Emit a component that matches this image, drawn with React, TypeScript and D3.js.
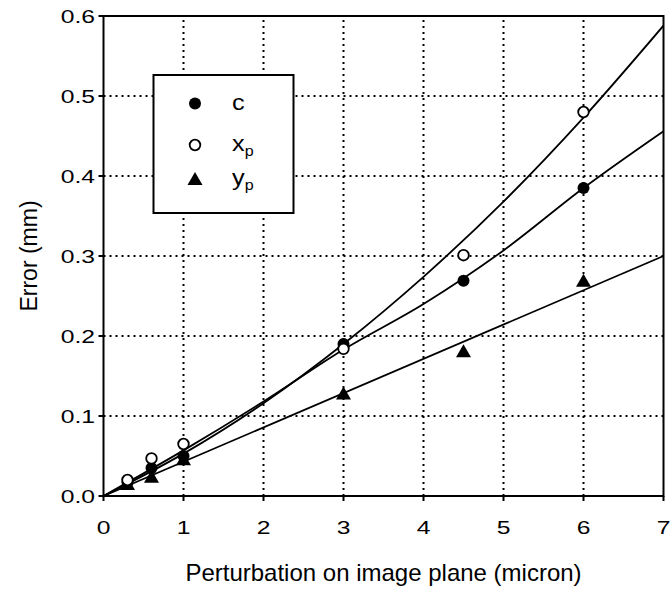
import React from 'react';
import * as d3 from 'd3';

// measured points
const xs = [0.3, 0.6, 1, 3, 4.5, 6];
const cVals = [0.017, 0.035, 0.05, 0.19, 0.269, 0.385];
const xpVals = [0.02, 0.047, 0.065, 0.184, 0.301, 0.48];
const ypVals = [0.015, 0.024, 0.046, 0.128, 0.181, 0.269];

// fitted curves
const fitX = [0, 1, 2, 3, 4, 5, 6, 7];
const cFit = [0, 0.057, 0.118, 0.183, 0.24, 0.307, 0.385, 0.456];
const xpFit = [0, 0.053, 0.116, 0.19, 0.274, 0.368, 0.473, 0.588];
const ypFitX = [0, 7];
const ypFit = [0, 0.3];

const xTicks = [0, 1, 2, 3, 4, 5, 6, 7];
const yTicks = [0, 0.1, 0.2, 0.3, 0.4, 0.5, 0.6];

const W = 671;
const H = 591;
const margin = { top: 16, right: 7.5, bottom: 95, left: 103.5 };
const FONT = '"Liberation Sans", Arial, Helvetica, sans-serif';
const TICK_FS = 19;
const TICK_SX = 1.3;

export default function App() {
  const x = d3.scaleLinear().domain([0, 7]).range([margin.left, W - margin.right]);
  const y = d3.scaleLinear().domain([0, 0.6]).range([H - margin.bottom, margin.top]);

  const line = d3.line<[number, number]>()
    .x(d => x(d[0]))
    .y(d => y(d[1]))
    .curve(d3.curveMonotoneX);

  const x0 = x(0), x1 = x(7), y0 = y(0), y1 = y(0.6);
  const tri = (cx: number, cy: number) => `M${cx},${cy - 7} L${cx + 7.5},${cy + 6} L${cx - 7.5},${cy + 6} Z`;

  const legend = { x: 153.5, y: 75, w: 140, h: 138 };
  const lx = 195;
  const tx = 232;

  return (
    <svg width={W} height={H} style={{ position: 'absolute', left: 0, top: 0, background: '#fff' }} fontFamily={FONT}>
      <rect x={0} y={0} width={W} height={H} fill="#fff" />
      <defs>
        <clipPath id="plot">
          <rect x={x0} y={y1} width={x1 - x0} height={y0 - y1} />
        </clipPath>
      </defs>

      {/* grid */}
      {xTicks.slice(1, -1).map(t => (
        <line key={'gx' + t} x1={x(t)} x2={x(t)} y1={y0} y2={y1} stroke="#000" strokeWidth={2} strokeDasharray="2,4" />
      ))}
      {yTicks.slice(1, -1).map(t => (
        <line key={'gy' + t} x1={x0} x2={x1} y1={y(t)} y2={y(t)} stroke="#000" strokeWidth={2} strokeDasharray="2,4" />
      ))}

      {/* fitted lines */}
      <g clipPath="url(#plot)" fill="none" stroke="#000" strokeWidth={1.8}>
        <path d={line(fitX.map((v, i) => [v, xpFit[i]]) as any) || ''} />
        <path d={line(fitX.map((v, i) => [v, cFit[i]]) as any) || ''} />
        <path d={line(ypFitX.map((v, i) => [v, ypFit[i]]) as any) || ''} />
      </g>

      {/* markers */}
      {xs.map((v, i) => (
        <path key={'yp' + i} d={tri(x(v), y(ypVals[i]))} fill="#000" />
      ))}
      {xs.map((v, i) => (
        <circle key={'c' + i} cx={x(v)} cy={y(cVals[i])} r={6} fill="#000" />
      ))}
      {xs.map((v, i) => (
        <circle key={'xp' + i} cx={x(v)} cy={y(xpVals[i])} r={5.3} fill="#fff" stroke="#000" strokeWidth={1.8} />
      ))}

      {/* frame */}
      <rect x={x0} y={y1} width={x1 - x0} height={y0 - y1} fill="none" stroke="#000" strokeWidth={2} />

      {/* axes ticks */}
      {xTicks.map(t => (
        <g key={'xt' + t}>
          <line x1={x(t)} x2={x(t)} y1={y0} y2={y0 + 5} stroke="#000" strokeWidth={2} />
          <text transform={`translate(${x(t)},534) scale(${TICK_SX},1)`} textAnchor="middle" fontSize={TICK_FS}>{t}</text>
        </g>
      ))}
      {yTicks.map(t => (
        <g key={'yt' + t}>
          <line x1={x0 - 5} x2={x0} y1={y(t)} y2={y(t)} stroke="#000" strokeWidth={2} />
          <text transform={`translate(95,${y(t) + 6.8}) scale(${TICK_SX},1)`} textAnchor="end" fontSize={TICK_FS}>{t.toFixed(1)}</text>
        </g>
      ))}

      <text x={(x0 + x1) / 2} y={581} textAnchor="middle" fontSize={24}>Perturbation on image plane (micron)</text>
      <text transform={`translate(37, ${(y0 + y1) / 2}) rotate(-90)`} textAnchor="middle" fontSize={23}>Error (mm)</text>

      {/* legend */}
      <rect x={legend.x} y={legend.y} width={legend.w} height={legend.h} fill="#fff" stroke="#000" strokeWidth={2} />
      <circle cx={lx} cy={103.5} r={6} fill="#000" />
      <text transform={`translate(${tx},110) scale(1.15,1)`} fontSize={22}>c</text>
      <circle cx={lx} cy={145} r={5.3} fill="#fff" stroke="#000" strokeWidth={1.8} />
      <text transform={`translate(${tx},151) scale(1.15,1)`} fontSize={22}>x<tspan fontSize={14} dy={5}>p</tspan></text>
      <path d={tri(lx, 179)} fill="#000" />
      <text transform={`translate(${tx},185) scale(1.15,1)`} fontSize={22}>y<tspan fontSize={14} dy={5}>p</tspan></text>
    </svg>
  );
}
